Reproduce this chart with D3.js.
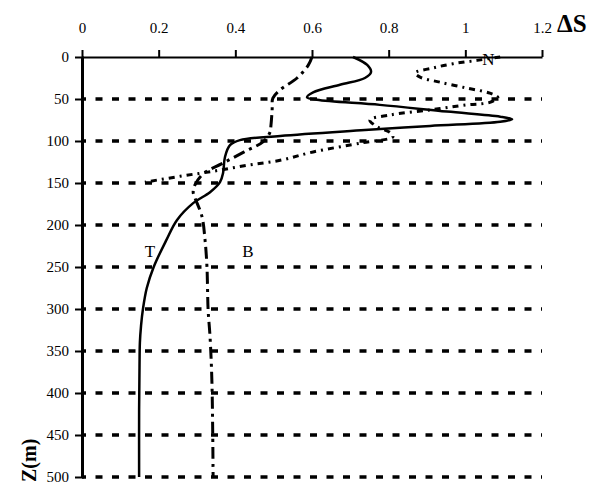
<!DOCTYPE html>
<html><head><meta charset="utf-8">
<script src="https://cdn.jsdelivr.net/npm/d3@7"></script>
<style>body{margin:0;background:#fff}svg{display:block}text{font-family:"Liberation Serif","Times New Roman",serif;fill:#000}</style>
</head><body>
<script>
// ---- data ----
const xTicks = [0, 0.2, 0.4, 0.6, 0.8, 1, 1.2];
const xTickLabels = ["0", "0.2", "0.4", "0.6", "0.8", "1", "1.2"];
const zTicks = [0, 50, 100, 150, 200, 250, 300, 350, 400, 450, 500];
const gridDepths = [50, 100, 150, 200, 250, 300, 350, 400, 450, 500];

const depthT = [0, 9.5, 18, 25, 33, 42, 48, 51, 57, 65, 71, 74, 77, 82, 87, 94, 99, 105, 119, 138, 149, 161, 174, 194, 218, 250, 275, 300, 320, 340, 370, 420, 500];
const valueT = [0.707, 0.744, 0.754, 0.738, 0.673, 0.603, 0.587, 0.613, 0.777, 0.952, 1.091, 1.122, 1.091, 0.908, 0.738, 0.517, 0.412, 0.386, 0.373, 0.368, 0.360, 0.334, 0.290, 0.248, 0.220, 0.187, 0.169, 0.159, 0.154, 0.151, 0.150, 0.149, 0.149];

const depthB = [0, 10, 25, 39, 49, 63, 81, 90, 101, 113, 127, 139, 152, 161, 168, 190, 218, 250, 301, 333, 388, 500];
const valueB = [0.600, 0.590, 0.561, 0.517, 0.498, 0.496, 0.493, 0.490, 0.472, 0.423, 0.365, 0.316, 0.295, 0.290, 0.295, 0.313, 0.321, 0.326, 0.329, 0.334, 0.339, 0.342];

const depthN = [0, 4, 8, 13, 19, 24, 30, 37, 43, 48, 54, 57, 63, 69, 75, 83, 90, 95, 102, 113, 123, 129, 136, 142, 149];
const valueN = [1.091, 1.031, 0.968, 0.916, 0.869, 0.882, 0.934, 1.004, 1.064, 1.085, 1.064, 1.004, 0.908, 0.804, 0.751, 0.770, 0.804, 0.811, 0.733, 0.603, 0.517, 0.430, 0.342, 0.256, 0.164];

const seriesLabels = [
  {name: "T", x: 0.177, z: 238},
  {name: "B", x: 0.433, z: 238},
  {name: "N", x: 1.06, z: 10}
];

// ---- layout ----
const W = 602, H = 483;
const svg = d3.select("body").append("svg").attr("width", W).attr("height", H);
const x = d3.scaleLinear().domain([0, 1.2]).range([82, 542]);
const y = d3.scaleLinear().domain([0, 500]).range([57, 477]);

// gridlines
svg.append("g").selectAll("line").data(gridDepths).join("line")
  .attr("x1", x(0)).attr("x2", x(1.2))
  .attr("y1", d => y(d)).attr("y2", d => y(d))
  .attr("stroke", "#000").attr("stroke-width", 3.5)
  .attr("stroke-dasharray", "7 9.5").attr("stroke-dashoffset", 3);

// top axis
const xAxis = d3.axisTop(x).tickValues(xTicks).tickFormat((d, i) => xTickLabels[i]).tickSize(7).tickSizeOuter(0);
const gx = svg.append("g").attr("transform", `translate(0,${y(0)})`).call(xAxis);
gx.select(".domain").attr("stroke-width", 2);
gx.selectAll(".tick line").attr("stroke-width", 2);
gx.selectAll(".tick text").attr("font-size", 15).attr("font-family", "Liberation Serif").attr("y", -24).attr("dy", 0);

// left axis
const yAxis = d3.axisLeft(y).tickValues(zTicks).tickSize(7).tickSizeOuter(0);
const gy = svg.append("g").attr("transform", `translate(${x(0)},0)`).call(yAxis);
gy.select(".domain").attr("stroke-width", 3);
gy.selectAll(".tick line").attr("stroke-width", 2).attr("x2", -7).attr("x1", 2);
gy.selectAll(".tick text").attr("font-size", 15).attr("font-family", "Liberation Serif").attr("x", -13);

// curves
const line = d3.line().x(d => x(d[0])).y(d => y(d[1])).curve(d3.curveCatmullRom.alpha(0.5));
const zipT = valueT.map((v, i) => [v, depthT[i]]);
const zipB = valueB.map((v, i) => [v, depthB[i]]);
const zipN = valueN.map((v, i) => [v, depthN[i]]);

svg.append("path").attr("d", line(zipN)).attr("fill", "none").attr("stroke", "#000")
  .attr("stroke-width", 3).attr("stroke-dasharray", "6 5 2 5");
svg.append("path").attr("d", line(zipB)).attr("fill", "none").attr("stroke", "#000")
  .attr("stroke-width", 3).attr("stroke-dasharray", "12 5 3 5");
svg.append("path").attr("d", line(zipT)).attr("fill", "none").attr("stroke", "#000")
  .attr("stroke-width", 2.5);

// series labels
svg.append("g").selectAll("text").data(seriesLabels).join("text")
  .attr("x", d => x(d.x)).attr("y", d => y(d.z))
  .attr("text-anchor", "middle").attr("font-size", 17).text(d => d.name);

// axis titles
svg.append("text").attr("x", 557).attr("y", 32).attr("font-size", 25).attr("font-weight", "bold").text("ΔS");
svg.append("text").attr("transform", "translate(36,482) rotate(-90)").attr("font-size", 20)
  .attr("font-weight", "bold").text("Z(m)");
</script>
</body></html>
